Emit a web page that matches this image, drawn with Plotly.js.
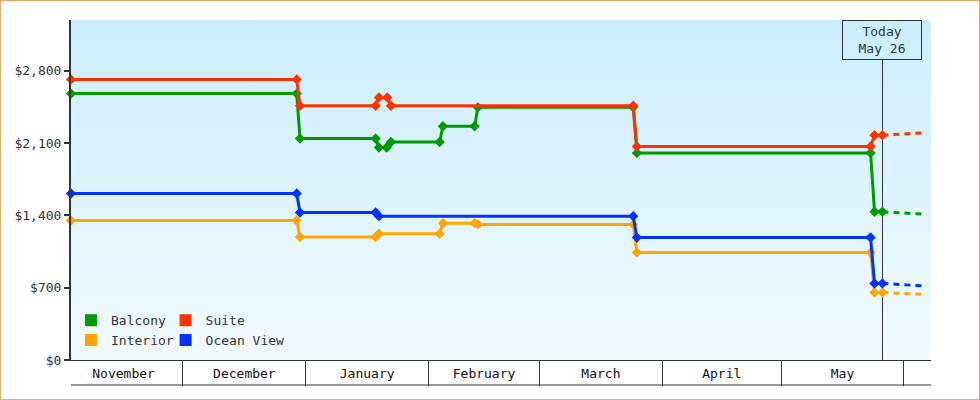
<!DOCTYPE html>
<html>
<head>
<meta charset="utf-8">
<script src="https://cdn.plot.ly/plotly-3.0.1.min.js"></script>
<style>
  html, body { margin: 0; padding: 0; background: #ffffff; }
  #chart { width: 978px; height: 398px; border: 1px solid #e9a96b; }
</style>
</head>
<body>
<div id="chart"></div>
<script>
// ---------------- data ----------------
const seriesNames = ['Balcony', 'Interior', 'Suite', 'Ocean View'];
const seriesColors = ['#009900', '#ffa500', '#ff3300', '#0033ff'];

const balconyDates = ['2018-11-02 17:30', '2018-12-29 17:00', '2018-12-30 13:00', '2019-01-18 15:00', '2019-01-19 11:30', '2019-01-21 10:00', '2019-01-22 12:00', '2019-02-03 19:00', '2019-02-04 15:00', '2019-02-12 15:00', '2019-02-13 11:00', '2019-03-24 16:00', '2019-03-25 14:00', '2019-05-23 14:00', '2019-05-24 14:00', '2019-05-26 14:00'];
const balconyPrices = [2578, 2578, 2143, 2143, 2056, 2056, 2110, 2110, 2262, 2262, 2445, 2445, 2004, 2004, 1434, 1434];

const interiorDates = ['2018-11-02 17:30', '2018-12-29 17:00', '2018-12-30 13:00', '2019-01-18 15:00', '2019-01-19 11:30', '2019-02-03 19:00', '2019-02-04 15:00', '2019-02-12 15:00', '2019-02-13 11:00', '2019-03-24 16:00', '2019-03-25 14:00', '2019-05-23 14:00', '2019-05-24 14:00', '2019-05-26 14:00'];
const interiorPrices = [1350, 1350, 1189, 1189, 1221, 1221, 1324, 1324, 1312, 1312, 1041, 1041, 654, 654];

const suiteDates = ['2018-11-02 17:30', '2018-12-29 17:00', '2018-12-30 13:00', '2019-01-18 15:00', '2019-01-19 11:30', '2019-01-21 14:00', '2019-01-22 12:00', '2019-03-24 16:00', '2019-03-25 14:00', '2019-05-23 14:00', '2019-05-24 14:00', '2019-05-26 14:00'];
const suitePrices = [2715, 2715, 2460, 2460, 2540, 2540, 2460, 2460, 2066, 2066, 2175, 2175];

const oceanDates = ['2018-11-02 17:30', '2018-12-29 17:00', '2018-12-30 13:00', '2019-01-18 15:00', '2019-01-19 11:30', '2019-03-24 16:00', '2019-03-25 14:00', '2019-05-23 14:00', '2019-05-24 14:00', '2019-05-26 14:00'];
const oceanPrices = [1611, 1611, 1428, 1428, 1392, 1392, 1186, 1186, 741, 741];

// forecast (dotted)
const forecastDates = ['2019-05-26 14:00', '2019-06-01 12:00', '2019-06-06 17:00'];
const balconyForecast = [1434, 1423, 1409];
const interiorForecast = [654, 645, 635];
const suiteForecast = [2175, 2185, 2200];
const oceanForecast = [741, 731, 715];

const todayDate = '2019-05-26 14:00';
const todayLabel = ['Today', 'May 26'];

const monthStarts = ['2018-11-01', '2018-12-01', '2019-01-01', '2019-02-01', '2019-03-01', '2019-04-01', '2019-05-01', '2019-06-01', '2019-07-01'];
const monthNames = ['November', 'December', 'January', 'February', 'March', 'April', 'May', 'June'];

const xRange = ['2018-11-02 17:30', '2019-06-07 20:00'];
const yRange = [0, 3290];
const yTickVals = [0, 700, 1400, 2100, 2800];
const yTickText = ['$0', '$700', '$1,400', '$2,100', '$2,800'];

// ---------------- build ----------------
const FONT = 'DejaVu Sans Mono, monospace';
const INK = '#333333';

const solid = [
  [balconyDates, balconyPrices, balconyForecast],
  [interiorDates, interiorPrices, interiorForecast],
  [suiteDates, suitePrices, suiteForecast],
  [oceanDates, oceanPrices, oceanForecast]
];
// draw order: orange, blue, green, red (red on top)
const drawOrder = [1, 3, 0, 2];

const traces = [];
drawOrder.forEach(i => {
  const [d, p, f] = solid[i];
  traces.push({
    type: 'scatter', mode: 'lines', x: forecastDates, y: f,
    line: { color: seriesColors[i], width: 3, dash: '6px,5px' },
    showlegend: false, hoverinfo: 'skip', cliponaxis: false
  });
  traces.push({
    type: 'scatter', mode: 'lines+markers', x: d, y: p, name: seriesNames[i],
    line: { color: seriesColors[i], width: 3 },
    marker: { symbol: 'diamond', size: 8, color: seriesColors[i] },
    showlegend: false, legendgroup: seriesNames[i], cliponaxis: false,
    hovertemplate: '%{x|%b %d}: $%{y:,}<extra>' + seriesNames[i] + '</extra>'
  });
});
// legend swatches (squares)
[0, 1].forEach(i => traces.push({
  type: 'bar', x: [null], y: [null], name: seriesNames[i], legend: 'legend',
  marker: { color: seriesColors[i] }, legendgroup: seriesNames[i], hoverinfo: 'skip'
}));
[2, 3].forEach(i => traces.push({
  type: 'bar', x: [null], y: [null], name: seriesNames[i], legend: 'legend2',
  marker: { color: seriesColors[i] }, legendgroup: seriesNames[i], hoverinfo: 'skip'
}));

// month label positions: middle of each month
const monthMids = monthNames.map((n, k) => {
  const a = new Date(monthStarts[k] + 'T00:00:00Z').getTime();
  const b = new Date(monthStarts[k + 1] + 'T00:00:00Z').getTime();
  return new Date((a + b) / 2).toISOString().slice(0, 19).replace('T', ' ');
});

const gradSvg = "<svg xmlns='http://www.w3.org/2000/svg' width='10' height='10' viewBox='0 0 10 10' preserveAspectRatio='none'>" +
  "<defs><linearGradient id='g' x1='0' y1='0' x2='0' y2='1'>" +
  "<stop offset='0' stop-color='#caeefc'/><stop offset='1' stop-color='#f2faff'/>" +
  "</linearGradient></defs><rect width='10' height='10' fill='url(#g)'/></svg>";

const legendCommon = {
  orientation: 'v', yanchor: 'bottom', xanchor: 'left', y: 0.014,
  bgcolor: 'rgba(0,0,0,0)', borderwidth: 0,
  font: { family: FONT, size: 13, color: INK },
  tracegroupgap: 0
};

const layout = {
  width: 978, height: 398,
  margin: { l: 70, r: 48, t: 19, b: 39, pad: 0 },
  paper_bgcolor: '#ffffff',
  plot_bgcolor: 'rgba(0,0,0,0)',
  font: { family: FONT, size: 13, color: INK },
  showlegend: true,
  legend: Object.assign({ x: 0 }, legendCommon),
  legend2: Object.assign({ x: 0.110 }, legendCommon),
  xaxis: {
    type: 'date', range: xRange, fixedrange: true,
    showgrid: false, zeroline: false,
    showline: true, linecolor: INK, linewidth: 1,
    tickmode: 'array', tickvals: monthMids, ticktext: monthNames,
    ticks: '', ticklabelstandoff: 1,
    tickfont: { family: FONT, size: 13, color: '#111' },
    minor: { tickmode: 'array', tickvals: monthStarts, ticks: 'outside', ticklen: 25, tickwidth: 1, tickcolor: INK, showgrid: false }
  },
  yaxis: {
    range: yRange, fixedrange: true,
    showgrid: false, zeroline: false,
    showline: true, linecolor: INK, linewidth: 2,
    tickmode: 'array', tickvals: yTickVals, ticktext: yTickText,
    ticks: 'outside', ticklen: 5, tickwidth: 2, tickcolor: INK,
    tickfont: { family: FONT, size: 13, color: INK }
  },
  images: [{
    source: 'data:image/svg+xml;charset=utf-8,' + encodeURIComponent(gradSvg),
    xref: 'paper', yref: 'paper', x: 0, y: 1, sizex: 1, sizey: 1,
    xanchor: 'left', yanchor: 'top', sizing: 'stretch', layer: 'below'
  }],
  shapes: [
    { type: 'line', xref: 'x', yref: 'paper', x0: todayDate, x1: todayDate, y0: 0, y1: 0.882,
      line: { color: INK, width: 1 }, layer: 'below' },
    { type: 'line', xref: 'paper', yref: 'paper', x0: 0, x1: 1, y0: -0.0735, y1: -0.0735,
      line: { color: INK, width: 1 } }
  ],
  annotations: [{
    xref: 'x', yref: 'paper', x: todayDate, y: 1, xanchor: 'center', yanchor: 'top',
    text: todayLabel.join('<br>'), showarrow: false,
    font: { family: FONT, size: 13, color: INK },
    bordercolor: INK, borderwidth: 1, borderpad: 0, width: 78, height: 38,
    bgcolor: 'rgba(0,0,0,0)'
  }]
};

Plotly.newPlot('chart', traces, layout, { displayModeBar: false });
</script>
</body>
</html>
